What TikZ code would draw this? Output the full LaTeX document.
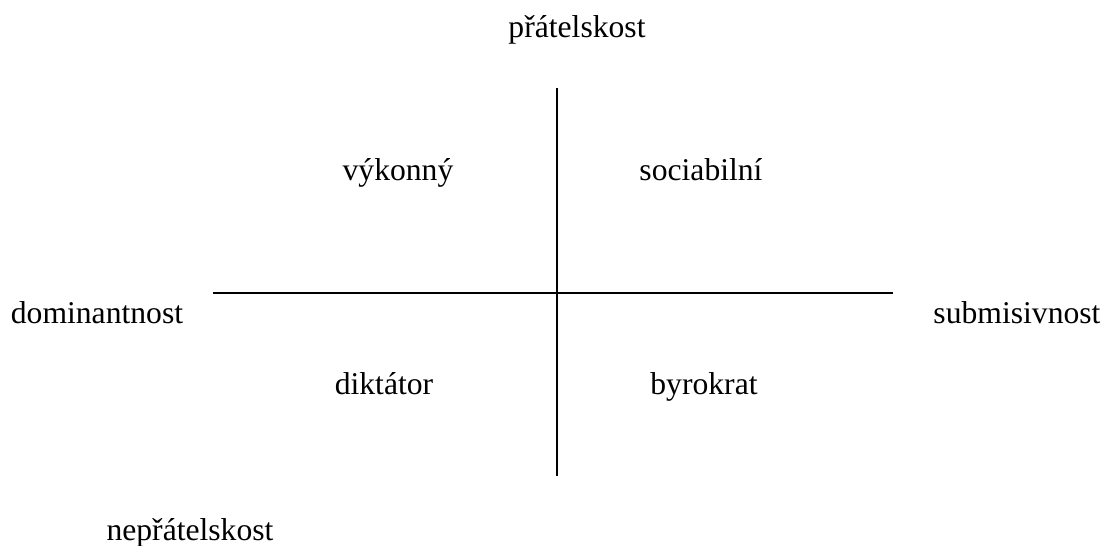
\documentclass[tikz,border=0pt]{standalone}
\usepackage{fontspec}
\setmainfont{Liberation Serif}
\usetikzlibrary{positioning}

\begin{document}
\begin{tikzpicture}[
        x=0.025cm, y=-0.025cm,
        label/.style={font=\fontsize{22.5}{27}\selectfont, anchor=base, inner sep=0pt},
        axis/.style={line width=1.3pt}
    ]
    \useasboundingbox (0,0) rectangle (1106,546);

    % Axes
    \coordinate (top) at (557, 88);
    \coordinate (bottom) at (557, 476);
    \coordinate (left) at (213, 293);
    \coordinate (right) at (893, 293);
    \draw[axis] (top) -- (bottom);
    \draw[axis] (left) -- (right);

    % Axis labels
    \node[label] (friendly) at (577, 37) {přátelskost};
    \node[label] (hostile) at (190, 540) {nepřátelskost};
    \node[label] (dominant) at (97, 323) {dominantnost};
    \node[label] (submissive) at (1017, 323) {submisivnost};

    % Quadrants
    \node[label] (executive) at (398, 180) {výkonný};
    \node[label] (sociable) at (701, 180) {sociabilní};
    \node[label] (dictator) at (384, 394) {diktátor};
    \node[label] (bureaucrat) at (704, 394) {byrokrat};
\end{tikzpicture}
\end{document}
